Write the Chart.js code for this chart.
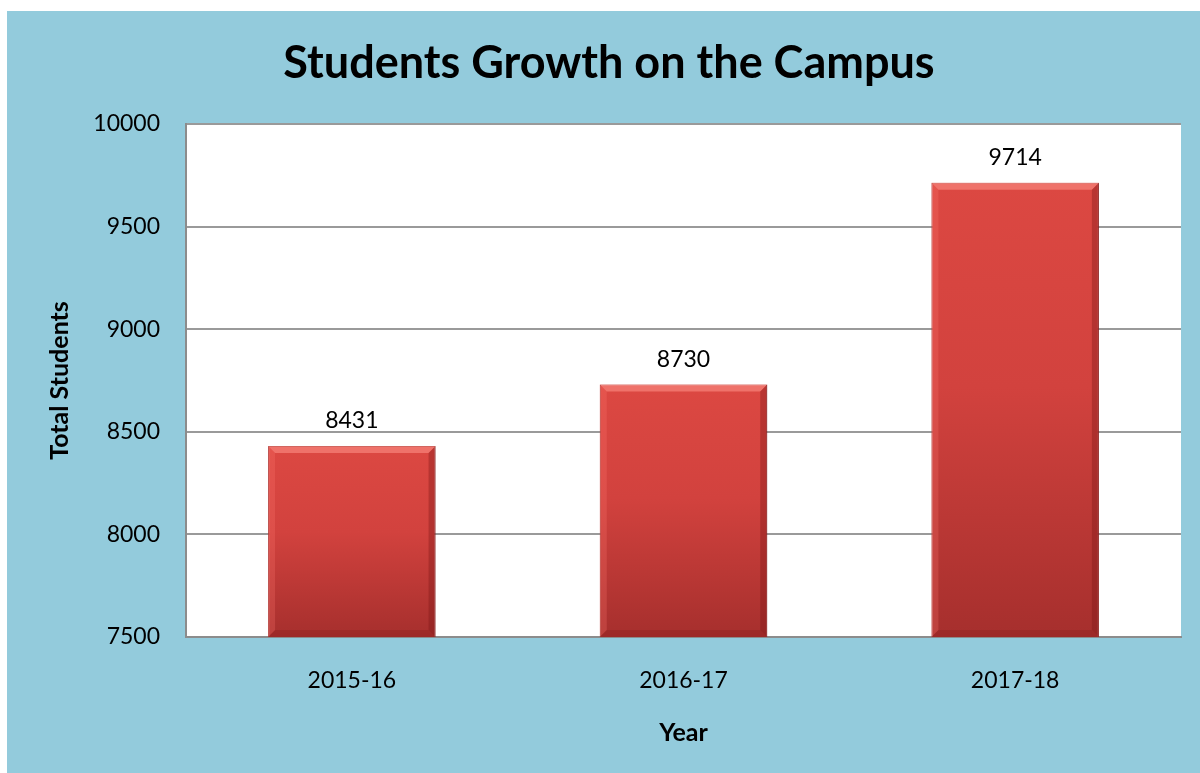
<!DOCTYPE html>
<html>
<head>
<meta charset="utf-8">
<script src="https://cdn.jsdelivr.net/npm/chart.js@4"></script>
<style>
  html, body { margin: 0; padding: 0; background: #fff; }
  #wrap { position: absolute; left: 7px; top: 11px; width: 1193px; height: 762px; background: #93cbdc; }
</style>
</head>
<body>
<div id="wrap"><canvas id="c"></canvas></div>
<script>
const years = ['2015-16', '2016-17', '2017-18'];
const students = [8431, 8730, 9714];
const yMin = 7500, yMax = 10000, yStep = 500;

const FONT = 'Lato, "Open Sans", sans-serif';

const plotBg = {
  id: 'plotBg',
  beforeDraw(chart) {
    const {ctx, chartArea: a} = chart;
    ctx.save(); ctx.fillStyle = '#ffffff';
    ctx.fillRect(a.left, a.top, a.right - a.left, a.bottom - a.top);
    ctx.restore();
  }
};

// bevel edges + value labels on top of each bar
const bevel = {
  id: 'bevel',
  afterDatasetsDraw(chart) {
    const ctx = chart.ctx;
    chart.getDatasetMeta(0).data.forEach((b, i) => {
      const l = b.x - b.width / 2, r = b.x + b.width / 2, t = b.y, e = 7;
      const btm = Math.min(b.base, chart.chartArea.bottom);
      ctx.save();
      ctx.fillStyle = 'rgba(255,150,140,0.55)';
      ctx.beginPath(); ctx.moveTo(l, t); ctx.lineTo(r, t); ctx.lineTo(r - e, t + e); ctx.lineTo(l + e, t + e); ctx.closePath(); ctx.fill();
      ctx.fillStyle = 'rgba(120,20,20,0.35)';
      ctx.beginPath(); ctx.moveTo(r, t); ctx.lineTo(r, btm); ctx.lineTo(r - e, btm - e); ctx.lineTo(r - e, t + e); ctx.closePath(); ctx.fill();
      ctx.fillStyle = 'rgba(120,20,20,0.2)';
      ctx.beginPath(); ctx.moveTo(l, btm); ctx.lineTo(r, btm); ctx.lineTo(r - e, btm - e); ctx.lineTo(l + e, btm - e); ctx.closePath(); ctx.fill();
      ctx.fillStyle = 'rgba(255,120,110,0.25)';
      ctx.beginPath(); ctx.moveTo(l, t); ctx.lineTo(l + e, t + e); ctx.lineTo(l + e, btm - e); ctx.lineTo(l, btm); ctx.closePath(); ctx.fill();
      ctx.fillStyle = '#000'; ctx.font = '23px ' + FONT;
      ctx.textAlign = 'center'; ctx.textBaseline = 'middle';
      ctx.fillText(String(students[i]), b.x, t - 25);
      ctx.restore();
    });
  }
};

function barGradient(c) {
  const chart = c.chart, y = chart.scales.y;
  if (!y || c.raw == null) return '#d3423d';
  const top = y.getPixelForValue(c.raw), bot = y.getPixelForValue(yMin);
  if (!isFinite(top) || !isFinite(bot) || top === bot) return '#d3423d';
  const g = chart.ctx.createLinearGradient(0, top, 0, bot);
  g.addColorStop(0, '#dc4842');
  g.addColorStop(0.45, '#d2423e');
  g.addColorStop(1, '#a62f2d');
  return g;
}

new Chart(document.getElementById('c'), {
  type: 'bar',
  data: {
    labels: years,
    datasets: [{
      data: students,
      backgroundColor: barGradient,
      borderColor: '#9c2b29',
      borderWidth: 1,
      categoryPercentage: 1,
      barPercentage: 0.505
    }]
  },
  options: {
    responsive: true,
    maintainAspectRatio: false,
    animation: false,
    layout: { padding: { left: 30, right: 19, top: 0, bottom: 0 } },
    plugins: {
      legend: { display: false },
      tooltip: { enabled: false },
      title: {
        display: true,
        text: 'Students Growth on the Campus',
        color: '#000',
        font: { family: FONT, size: 45, weight: 'bold', lineHeight: 1.2 },
        padding: { top: 25, bottom: 34 }
      }
    },
    scales: {
      x: {
        grid: { display: false, drawTicks: false },
        border: { display: true, color: '#8c8c8c', width: 2 },
        ticks: { color: '#000', font: { family: FONT, size: 23 }, padding: 30 },
        title: { display: true, text: 'Year', color: '#000', font: { family: FONT, size: 25, weight: 'bold', lineHeight: 1.2 }, padding: { top: 0, bottom: 25 } },
        afterFit(s) { s.height = 136; }
      },
      y: {
        min: yMin, max: yMax,
        grid: { color: '#9a9a9a', lineWidth: 2, drawTicks: false },
        border: { display: true, color: '#8c8c8c', width: 2 },
        ticks: { stepSize: yStep, color: '#000', font: { family: FONT, size: 23 }, padding: 26, callback: v => String(v) },
        title: { display: true, text: 'Total Students', color: '#000', font: { family: FONT, size: 25, weight: 'bold', lineHeight: 1.2 }, padding: { top: 8, bottom: 0 } },
        afterFit(s) { s.width = 149; }
      }
    }
  },
  plugins: [plotBg, bevel]
});
</script>
</body>
</html>
